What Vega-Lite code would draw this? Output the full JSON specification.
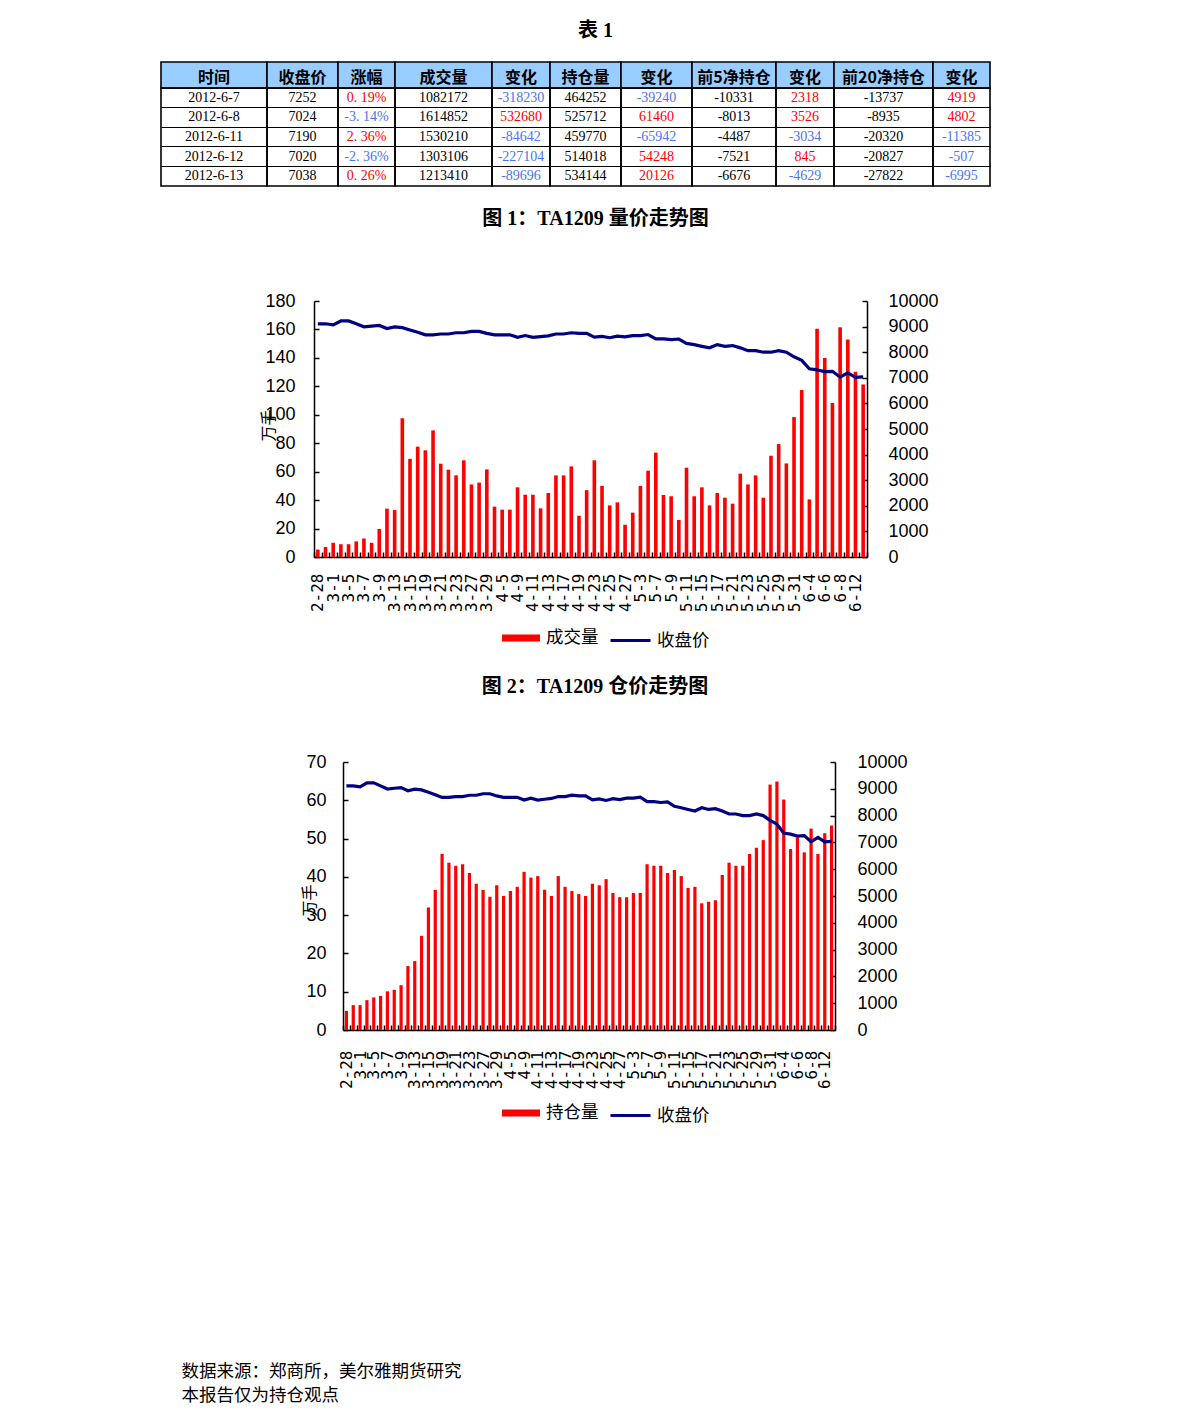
{
  "$schema": "https://vega.github.io/schema/vega-lite/v6.json",
  "background": "white",
  "padding": 0,
  "autosize": {"type": "pad"},
  "bounds": "flush",
  "spacing": 0,
  "resolve": {"scale": {"fill": "independent", "stroke": "independent", "color": "independent"}, "legend": {"fill": "independent", "stroke": "independent"}},
  "config": {
    "view": {"stroke": null},
    "axis": {"labelColor": "#000", "domainColor": "#000", "tickColor": "#000", "grid": false}
  },
  "datasets": {
    "table": [
      {"d": "2012-6-7", "close": 7252, "pct": "0. 19%", "vol": 1082172, "volChg": -318230, "oi": 464252, "oiChg": -39240, "top5": -10331, "top5Chg": 2318, "top20": -13737, "top20Chg": 4919},
      {"d": "2012-6-8", "close": 7024, "pct": "-3. 14%", "vol": 1614852, "volChg": 532680, "oi": 525712, "oiChg": 61460, "top5": -8013, "top5Chg": 3526, "top20": -8935, "top20Chg": 4802},
      {"d": "2012-6-11", "close": 7190, "pct": "2. 36%", "vol": 1530210, "volChg": -84642, "oi": 459770, "oiChg": -65942, "top5": -4487, "top5Chg": -3034, "top20": -20320, "top20Chg": -11385},
      {"d": "2012-6-12", "close": 7020, "pct": "-2. 36%", "vol": 1303106, "volChg": -227104, "oi": 514018, "oiChg": 54248, "top5": -7521, "top5Chg": 845, "top20": -20827, "top20Chg": -507},
      {"d": "2012-6-13", "close": 7038, "pct": "0. 26%", "vol": 1213410, "volChg": -89696, "oi": 534144, "oiChg": 20126, "top5": -6676, "top5Chg": -4629, "top20": -27822, "top20Chg": -6995}
    ],
    "daily": [
      {"d": "2-28", "vol": 5.2, "oi": 5.0, "close": 9110},
      {"d": "2-29", "vol": 7, "oi": 6.5, "close": 9110},
      {"d": "3-1", "vol": 10, "oi": 6.5, "close": 9070},
      {"d": "3-2", "vol": 9, "oi": 7.8, "close": 9220},
      {"d": "3-5", "vol": 9, "oi": 8.5, "close": 9220},
      {"d": "3-6", "vol": 11, "oi": 8.9, "close": 9110},
      {"d": "3-7", "vol": 13, "oi": 10.1, "close": 8990},
      {"d": "3-8", "vol": 10, "oi": 10.5, "close": 9020},
      {"d": "3-9", "vol": 19.7, "oi": 11.7, "close": 9045},
      {"d": "3-12", "vol": 34, "oi": 16.7, "close": 8925},
      {"d": "3-13", "vol": 33, "oi": 18.0, "close": 8985},
      {"d": "3-14", "vol": 97.5, "oi": 24.6, "close": 8960},
      {"d": "3-15", "vol": 69, "oi": 32.0, "close": 8870},
      {"d": "3-16", "vol": 77.6, "oi": 36.6, "close": 8780},
      {"d": "3-19", "vol": 75, "oi": 46.0, "close": 8680},
      {"d": "3-20", "vol": 89, "oi": 43.7, "close": 8680},
      {"d": "3-21", "vol": 65.6, "oi": 42.9, "close": 8710},
      {"d": "3-22", "vol": 61.4, "oi": 43.3, "close": 8710},
      {"d": "3-23", "vol": 57.4, "oi": 41.0, "close": 8760},
      {"d": "3-26", "vol": 68, "oi": 38.2, "close": 8760},
      {"d": "3-27", "vol": 51, "oi": 36.6, "close": 8815},
      {"d": "3-28", "vol": 52.3, "oi": 34.8, "close": 8815},
      {"d": "3-29", "vol": 61.6, "oi": 37.8, "close": 8735},
      {"d": "3-30", "vol": 35.4, "oi": 35.0, "close": 8680},
      {"d": "4-5", "vol": 33.3, "oi": 36.3, "close": 8680},
      {"d": "4-6", "vol": 33.3, "oi": 37.4, "close": 8680},
      {"d": "4-9", "vol": 49, "oi": 41.3, "close": 8580},
      {"d": "4-10", "vol": 43.8, "oi": 39.8, "close": 8650},
      {"d": "4-11", "vol": 43.8, "oi": 40.2, "close": 8580},
      {"d": "4-12", "vol": 34.2, "oi": 36.6, "close": 8610},
      {"d": "4-13", "vol": 45, "oi": 35.0, "close": 8640},
      {"d": "4-16", "vol": 57.4, "oi": 40.2, "close": 8710},
      {"d": "4-17", "vol": 57.4, "oi": 37.4, "close": 8710},
      {"d": "4-18", "vol": 63.7, "oi": 36.3, "close": 8760},
      {"d": "4-19", "vol": 29, "oi": 35.5, "close": 8735},
      {"d": "4-20", "vol": 47, "oi": 35.0, "close": 8735},
      {"d": "4-23", "vol": 68, "oi": 38.2, "close": 8590},
      {"d": "4-24", "vol": 50, "oi": 37.8, "close": 8620},
      {"d": "4-25", "vol": 36.3, "oi": 39.4, "close": 8565},
      {"d": "4-26", "vol": 38.4, "oi": 35.8, "close": 8630},
      {"d": "4-27", "vol": 22.7, "oi": 34.7, "close": 8600},
      {"d": "5-2", "vol": 31.2, "oi": 34.7, "close": 8650},
      {"d": "5-3", "vol": 50, "oi": 35.8, "close": 8650},
      {"d": "5-4", "vol": 60.7, "oi": 35.8, "close": 8690},
      {"d": "5-7", "vol": 73.4, "oi": 43.3, "close": 8520},
      {"d": "5-8", "vol": 43.6, "oi": 42.9, "close": 8520},
      {"d": "5-9", "vol": 42.7, "oi": 42.9, "close": 8490},
      {"d": "5-10", "vol": 26, "oi": 41.0, "close": 8515},
      {"d": "5-11", "vol": 62.8, "oi": 41.8, "close": 8345},
      {"d": "5-14", "vol": 42.7, "oi": 40.2, "close": 8295},
      {"d": "5-15", "vol": 49, "oi": 37.1, "close": 8230},
      {"d": "5-16", "vol": 36.3, "oi": 37.4, "close": 8170},
      {"d": "5-17", "vol": 45, "oi": 33.1, "close": 8295},
      {"d": "5-18", "vol": 41.7, "oi": 33.5, "close": 8230},
      {"d": "5-21", "vol": 37.5, "oi": 33.9, "close": 8260},
      {"d": "5-22", "vol": 58.6, "oi": 40.5, "close": 8170},
      {"d": "5-23", "vol": 51, "oi": 43.7, "close": 8060},
      {"d": "5-24", "vol": 57.4, "oi": 42.9, "close": 8060},
      {"d": "5-25", "vol": 41.7, "oi": 42.9, "close": 8000},
      {"d": "5-28", "vol": 71.2, "oi": 46.0, "close": 8000},
      {"d": "5-29", "vol": 79.4, "oi": 47.6, "close": 8060},
      {"d": "5-30", "vol": 65.8, "oi": 49.6, "close": 8000},
      {"d": "5-31", "vol": 98.4, "oi": 64.1, "close": 7820},
      {"d": "6-1", "vol": 117.4, "oi": 64.9, "close": 7680},
      {"d": "6-4", "vol": 40.5, "oi": 60.2, "close": 7350},
      {"d": "6-5", "vol": 160.5, "oi": 47.3, "close": 7310},
      {"d": "6-6", "vol": 140.0, "oi": 50.3, "close": 7238},
      {"d": "6-7", "vol": 108.2, "oi": 46.4, "close": 7252},
      {"d": "6-8", "vol": 161.5, "oi": 52.6, "close": 7024},
      {"d": "6-11", "vol": 153.0, "oi": 46.0, "close": 7190},
      {"d": "6-12", "vol": 130.3, "oi": 51.4, "close": 7020},
      {"d": "6-13", "vol": 121.3, "oi": 53.4, "close": 7038}
    ]
  },
  "vconcat": [
    {
      "width": 1191, "height": 62,
      "data": {"values": [{"t": "表 1"}]},
      "mark": {"type": "text", "font": "Liberation Serif, Noto Sans CJK SC", "fontSize": 20, "fontWeight": "bold", "color": "#000"},
      "encoding": {"text": {"field": "t"}}
    },
    {
      "hconcat": [
        {"width": 161, "height": 26, "data": {"values": []}, "mark": "point", "encoding": {}},
        {"width": 106, "height": 26, "data": {"values": [{"h": "时间"}]}, "mark": {"type": "text", "font": "Noto Sans CJK SC", "fontSize": 16, "fontWeight": "bold", "dy": 3, "color": "#000"}, "encoding": {"text": {"field": "h"}}, "view": {"fill": "#99ccff", "stroke": "#000", "strokeWidth": 1.6}},
        {"width": 71, "height": 26, "data": {"values": [{"h": "收盘价"}]}, "mark": {"type": "text", "font": "Noto Sans CJK SC", "fontSize": 16, "fontWeight": "bold", "dy": 3, "color": "#000"}, "encoding": {"text": {"field": "h"}}, "view": {"fill": "#99ccff", "stroke": "#000", "strokeWidth": 1.6}},
        {"width": 57, "height": 26, "data": {"values": [{"h": "涨幅"}]}, "mark": {"type": "text", "font": "Noto Sans CJK SC", "fontSize": 16, "fontWeight": "bold", "dy": 3, "color": "#000"}, "encoding": {"text": {"field": "h"}}, "view": {"fill": "#99ccff", "stroke": "#000", "strokeWidth": 1.6}},
        {"width": 97, "height": 26, "data": {"values": [{"h": "成交量"}]}, "mark": {"type": "text", "font": "Noto Sans CJK SC", "fontSize": 16, "fontWeight": "bold", "dy": 3, "color": "#000"}, "encoding": {"text": {"field": "h"}}, "view": {"fill": "#99ccff", "stroke": "#000", "strokeWidth": 1.6}},
        {"width": 58, "height": 26, "data": {"values": [{"h": "变化"}]}, "mark": {"type": "text", "font": "Noto Sans CJK SC", "fontSize": 16, "fontWeight": "bold", "dy": 3, "color": "#000"}, "encoding": {"text": {"field": "h"}}, "view": {"fill": "#99ccff", "stroke": "#000", "strokeWidth": 1.6}},
        {"width": 71, "height": 26, "data": {"values": [{"h": "持仓量"}]}, "mark": {"type": "text", "font": "Noto Sans CJK SC", "fontSize": 16, "fontWeight": "bold", "dy": 3, "color": "#000"}, "encoding": {"text": {"field": "h"}}, "view": {"fill": "#99ccff", "stroke": "#000", "strokeWidth": 1.6}},
        {"width": 71, "height": 26, "data": {"values": [{"h": "变化"}]}, "mark": {"type": "text", "font": "Noto Sans CJK SC", "fontSize": 16, "fontWeight": "bold", "dy": 3, "color": "#000"}, "encoding": {"text": {"field": "h"}}, "view": {"fill": "#99ccff", "stroke": "#000", "strokeWidth": 1.6}},
        {"width": 84, "height": 26, "data": {"values": [{"h": "前5净持仓"}]}, "mark": {"type": "text", "font": "Noto Sans CJK SC", "fontSize": 16, "fontWeight": "bold", "dy": 3, "color": "#000"}, "encoding": {"text": {"field": "h"}}, "view": {"fill": "#99ccff", "stroke": "#000", "strokeWidth": 1.6}},
        {"width": 58, "height": 26, "data": {"values": [{"h": "变化"}]}, "mark": {"type": "text", "font": "Noto Sans CJK SC", "fontSize": 16, "fontWeight": "bold", "dy": 3, "color": "#000"}, "encoding": {"text": {"field": "h"}}, "view": {"fill": "#99ccff", "stroke": "#000", "strokeWidth": 1.6}},
        {"width": 99, "height": 26, "data": {"values": [{"h": "前20净持仓"}]}, "mark": {"type": "text", "font": "Noto Sans CJK SC", "fontSize": 16, "fontWeight": "bold", "dy": 3, "color": "#000"}, "encoding": {"text": {"field": "h"}}, "view": {"fill": "#99ccff", "stroke": "#000", "strokeWidth": 1.6}},
        {"width": 57, "height": 26, "data": {"values": [{"h": "变化"}]}, "mark": {"type": "text", "font": "Noto Sans CJK SC", "fontSize": 16, "fontWeight": "bold", "dy": 3, "color": "#000"}, "encoding": {"text": {"field": "h"}}, "view": {"fill": "#99ccff", "stroke": "#000", "strokeWidth": 1.6}}
      ],
      "spacing": 0,
      "bounds": "flush"
    },
    {"width": 1, "height": 26, "data": {"values": []}, "mark": "point", "encoding": {}},
    {
      "hconcat": [
        {"width": 161, "height": 98, "data": {"values": []}, "mark": "point", "encoding": {}},
        {"width": 106, "height": 98, "data": {"name": "table"}, "mark": {"type": "text", "font": "Liberation Serif", "fontSize": 14, "color": "#000"},
         "encoding": {"y": {"field": "d", "type": "ordinal", "scale": {"type": "band", "domain": ["2012-6-7", "2012-6-8", "2012-6-11", "2012-6-12", "2012-6-13"], "paddingInner": 0, "paddingOuter": 0}, "axis": {"labels": false, "ticks": false, "domain": false, "grid": true, "gridColor": "#000", "gridWidth": 1.2, "title": null, "bandPosition": 0}},
                      "text": {"field": "d", "type": "nominal"}},
         "view": {"stroke": "#000", "strokeWidth": 1.6}},
        {"width": 71, "height": 98, "data": {"name": "table"}, "mark": {"type": "text", "font": "Liberation Serif", "fontSize": 14, "color": "#000"},
         "encoding": {"y": {"field": "d", "type": "ordinal", "scale": {"type": "band", "domain": ["2012-6-7", "2012-6-8", "2012-6-11", "2012-6-12", "2012-6-13"], "paddingInner": 0, "paddingOuter": 0}, "axis": {"labels": false, "ticks": false, "domain": false, "grid": true, "gridColor": "#000", "gridWidth": 1.2, "title": null, "bandPosition": 0}},
                      "text": {"field": "close", "type": "nominal"}},
         "view": {"stroke": "#000", "strokeWidth": 1.6}},
        {"width": 57, "height": 98, "data": {"name": "table"}, "mark": {"type": "text", "font": "Liberation Serif", "fontSize": 14},
         "encoding": {"y": {"field": "d", "type": "ordinal", "scale": {"type": "band", "domain": ["2012-6-7", "2012-6-8", "2012-6-11", "2012-6-12", "2012-6-13"], "paddingInner": 0, "paddingOuter": 0}, "axis": {"labels": false, "ticks": false, "domain": false, "grid": true, "gridColor": "#000", "gridWidth": 1.2, "title": null, "bandPosition": 0}},
                      "text": {"field": "pct", "type": "nominal"},
                      "color": {"condition": {"test": "indexof(datum.pct, '-') === 0", "value": "#4a74f5"}, "value": "#ff0000"}},
         "view": {"stroke": "#000", "strokeWidth": 1.6}},
        {"width": 97, "height": 98, "data": {"name": "table"}, "mark": {"type": "text", "font": "Liberation Serif", "fontSize": 14, "color": "#000"},
         "encoding": {"y": {"field": "d", "type": "ordinal", "scale": {"type": "band", "domain": ["2012-6-7", "2012-6-8", "2012-6-11", "2012-6-12", "2012-6-13"], "paddingInner": 0, "paddingOuter": 0}, "axis": {"labels": false, "ticks": false, "domain": false, "grid": true, "gridColor": "#000", "gridWidth": 1.2, "title": null, "bandPosition": 0}},
                      "text": {"field": "vol", "type": "nominal"}},
         "view": {"stroke": "#000", "strokeWidth": 1.6}},
        {"width": 58, "height": 98, "data": {"name": "table"}, "mark": {"type": "text", "font": "Liberation Serif", "fontSize": 14},
         "encoding": {"y": {"field": "d", "type": "ordinal", "scale": {"type": "band", "domain": ["2012-6-7", "2012-6-8", "2012-6-11", "2012-6-12", "2012-6-13"], "paddingInner": 0, "paddingOuter": 0}, "axis": {"labels": false, "ticks": false, "domain": false, "grid": true, "gridColor": "#000", "gridWidth": 1.2, "title": null, "bandPosition": 0}},
                      "text": {"field": "volChg", "type": "nominal"},
                      "color": {"condition": {"test": "datum.volChg < 0", "value": "#4a74f5"}, "value": "#ff0000"}},
         "view": {"stroke": "#000", "strokeWidth": 1.6}},
        {"width": 71, "height": 98, "data": {"name": "table"}, "mark": {"type": "text", "font": "Liberation Serif", "fontSize": 14, "color": "#000"},
         "encoding": {"y": {"field": "d", "type": "ordinal", "scale": {"type": "band", "domain": ["2012-6-7", "2012-6-8", "2012-6-11", "2012-6-12", "2012-6-13"], "paddingInner": 0, "paddingOuter": 0}, "axis": {"labels": false, "ticks": false, "domain": false, "grid": true, "gridColor": "#000", "gridWidth": 1.2, "title": null, "bandPosition": 0}},
                      "text": {"field": "oi", "type": "nominal"}},
         "view": {"stroke": "#000", "strokeWidth": 1.6}},
        {"width": 71, "height": 98, "data": {"name": "table"}, "mark": {"type": "text", "font": "Liberation Serif", "fontSize": 14},
         "encoding": {"y": {"field": "d", "type": "ordinal", "scale": {"type": "band", "domain": ["2012-6-7", "2012-6-8", "2012-6-11", "2012-6-12", "2012-6-13"], "paddingInner": 0, "paddingOuter": 0}, "axis": {"labels": false, "ticks": false, "domain": false, "grid": true, "gridColor": "#000", "gridWidth": 1.2, "title": null, "bandPosition": 0}},
                      "text": {"field": "oiChg", "type": "nominal"},
                      "color": {"condition": {"test": "datum.oiChg < 0", "value": "#4a74f5"}, "value": "#ff0000"}},
         "view": {"stroke": "#000", "strokeWidth": 1.6}},
        {"width": 84, "height": 98, "data": {"name": "table"}, "mark": {"type": "text", "font": "Liberation Serif", "fontSize": 14, "color": "#000"},
         "encoding": {"y": {"field": "d", "type": "ordinal", "scale": {"type": "band", "domain": ["2012-6-7", "2012-6-8", "2012-6-11", "2012-6-12", "2012-6-13"], "paddingInner": 0, "paddingOuter": 0}, "axis": {"labels": false, "ticks": false, "domain": false, "grid": true, "gridColor": "#000", "gridWidth": 1.2, "title": null, "bandPosition": 0}},
                      "text": {"field": "top5", "type": "nominal"}},
         "view": {"stroke": "#000", "strokeWidth": 1.6}},
        {"width": 58, "height": 98, "data": {"name": "table"}, "mark": {"type": "text", "font": "Liberation Serif", "fontSize": 14},
         "encoding": {"y": {"field": "d", "type": "ordinal", "scale": {"type": "band", "domain": ["2012-6-7", "2012-6-8", "2012-6-11", "2012-6-12", "2012-6-13"], "paddingInner": 0, "paddingOuter": 0}, "axis": {"labels": false, "ticks": false, "domain": false, "grid": true, "gridColor": "#000", "gridWidth": 1.2, "title": null, "bandPosition": 0}},
                      "text": {"field": "top5Chg", "type": "nominal"},
                      "color": {"condition": {"test": "datum.top5Chg < 0", "value": "#4a74f5"}, "value": "#ff0000"}},
         "view": {"stroke": "#000", "strokeWidth": 1.6}},
        {"width": 99, "height": 98, "data": {"name": "table"}, "mark": {"type": "text", "font": "Liberation Serif", "fontSize": 14, "color": "#000"},
         "encoding": {"y": {"field": "d", "type": "ordinal", "scale": {"type": "band", "domain": ["2012-6-7", "2012-6-8", "2012-6-11", "2012-6-12", "2012-6-13"], "paddingInner": 0, "paddingOuter": 0}, "axis": {"labels": false, "ticks": false, "domain": false, "grid": true, "gridColor": "#000", "gridWidth": 1.2, "title": null, "bandPosition": 0}},
                      "text": {"field": "top20", "type": "nominal"}},
         "view": {"stroke": "#000", "strokeWidth": 1.6}},
        {"width": 57, "height": 98, "data": {"name": "table"}, "mark": {"type": "text", "font": "Liberation Serif", "fontSize": 14},
         "encoding": {"y": {"field": "d", "type": "ordinal", "scale": {"type": "band", "domain": ["2012-6-7", "2012-6-8", "2012-6-11", "2012-6-12", "2012-6-13"], "paddingInner": 0, "paddingOuter": 0}, "axis": {"labels": false, "ticks": false, "domain": false, "grid": true, "gridColor": "#000", "gridWidth": 1.2, "title": null, "bandPosition": 0}},
                      "text": {"field": "top20Chg", "type": "nominal"},
                      "color": {"condition": {"test": "datum.top20Chg < 0", "value": "#4a74f5"}, "value": "#ff0000"}},
         "view": {"stroke": "#000", "strokeWidth": 1.6}}
      ],
      "spacing": 0,
      "bounds": "flush"
    },
    {"width": 1, "height": 213, "data": {"values": []}, "mark": "point", "encoding": {}},
    {
      "hconcat": [
        {"width": 314, "height": 256, "data": {"values": []}, "mark": "point", "encoding": {}},
        {
          "width": 553, "height": 256,
          "data": {"name": "daily"},
          "title": {"text": "图 1：TA1209 量价走势图", "offset": 63, "fontSize": 20, "font": "Liberation Serif, Noto Sans CJK SC", "fontWeight": "bold", "anchor": "middle", "dx": 5, "color": "#000"},
          "layer": [
            {
              "mark": {"type": "bar", "width": {"band": 0.47}},
              "encoding": {
                "x": {"field": "d", "type": "ordinal", "sort": null, "scale": {"paddingInner": 0, "paddingOuter": 0},
                      "axis": {"title": null, "labelAngle": -90, "labelFont": "DejaVu Sans Mono", "labelFontSize": 16, "labelPadding": 21, "labelOverlap": false,
                               "labelExpr": "indexof(['2-28','3-1','3-5','3-7','3-9','3-13','3-15','3-19','3-21','3-23','3-27','3-29','4-5','4-9','4-11','4-13','4-17','4-19','4-23','4-25','4-27','5-3','5-7','5-9','5-11','5-15','5-17','5-21','5-23','5-25','5-29','5-31','6-4','6-6','6-8','6-12'], datum.value) >= 0 ? datum.value : ''",
                               "tickBand": "extent", "tickSize": -5, "tickWidth": 1.5, "domainWidth": 1.5}},
                "y": {"field": "vol", "type": "quantitative", "scale": {"domain": [0, 180], "nice": false},
                      "axis": {"values": [0, 20, 40, 60, 80, 100, 120, 140, 160, 180], "title": "万手", "titleFont": "Noto Sans CJK SC", "titleFontSize": 16, "titleFontWeight": "normal", "titleX": -38, "titleY": 124, "titleColor": "#000",
                               "labelFont": "Liberation Sans", "labelFontSize": 18, "labelPadding": 24, "tickSize": -5, "tickWidth": 1.5, "domainWidth": 1.5}},
                "fill": {"datum": "成交量", "type": "nominal", "scale": {"range": ["#ff0000"]},
                         "legend": {"orient": "none", "legendX": 188, "legendY": 318, "title": null, "symbolType": "M-1,-0.184H1V0.184H-1Z", "symbolSize": 1444, "symbolStrokeWidth": 0, "labelFont": "Noto Sans CJK SC", "labelFontSize": 17.5, "labelColor": "#000", "labelOffset": 6, "padding": 0}}
              }
            },
            {
              "mark": {"type": "line", "strokeWidth": 3.2},
              "encoding": {
                "x": {"field": "d", "type": "ordinal", "sort": null},
                "y": {"field": "close", "type": "quantitative", "scale": {"domain": [0, 10000], "nice": false},
                      "axis": {"orient": "right", "values": [0, 1000, 2000, 3000, 4000, 5000, 6000, 7000, 8000, 9000, 10000], "title": null, "format": "d",
                               "labelFont": "Liberation Sans", "labelFontSize": 18, "labelPadding": 26, "tickSize": -5, "tickWidth": 1.5, "domainWidth": 1.5}},
                "stroke": {"datum": "收盘价", "type": "nominal", "scale": {"range": ["#000080"]},
                           "legend": {"orient": "none", "legendX": 295, "legendY": 318, "title": null, "symbolType": "stroke", "symbolSize": 1600, "symbolStrokeWidth": 3, "labelFont": "Noto Sans CJK SC", "labelFontSize": 17.5, "labelColor": "#000", "labelOffset": 5, "padding": 0}}
              }
            }
          ],
          "resolve": {"scale": {"y": "independent"}}
        }
      ],
      "spacing": 0,
      "bounds": "flush",
      "resolve": {"scale": {"fill": "independent", "stroke": "independent"}, "legend": {"fill": "independent", "stroke": "independent"}}
    },
    {"width": 1, "height": 461, "data": {"values": []}, "mark": "point", "encoding": {}},
    {
      "hconcat": [
        {"width": 343, "height": 268, "data": {"values": []}, "mark": "point", "encoding": {}},
        {
          "width": 492, "height": 268,
          "data": {"name": "daily"},
          "title": {"text": "图 2：TA1209 仓价走势图", "offset": 56, "fontSize": 20, "font": "Liberation Serif, Noto Sans CJK SC", "fontWeight": "bold", "anchor": "middle", "dx": 6, "color": "#000"},
          "layer": [
            {
              "mark": {"type": "bar", "width": {"band": 0.47}},
              "encoding": {
                "x": {"field": "d", "type": "ordinal", "sort": null, "scale": {"paddingInner": 0, "paddingOuter": 0},
                      "axis": {"title": null, "labelAngle": -90, "labelFont": "DejaVu Sans Mono", "labelFontSize": 16, "labelPadding": 25, "labelOverlap": false,
                               "labelExpr": "indexof(['2-28','3-1','3-5','3-7','3-9','3-13','3-15','3-19','3-21','3-23','3-27','3-29','4-5','4-9','4-11','4-13','4-17','4-19','4-23','4-25','4-27','5-3','5-7','5-9','5-11','5-15','5-17','5-21','5-23','5-25','5-29','5-31','6-4','6-6','6-8','6-12'], datum.value) >= 0 ? datum.value : ''",
                               "tickBand": "extent", "tickSize": -5, "tickWidth": 1.5, "domainWidth": 1.5}},
                "y": {"field": "oi", "type": "quantitative", "scale": {"domain": [0, 70], "nice": false},
                      "axis": {"values": [0, 10, 20, 30, 40, 50, 60, 70], "title": "万手", "titleFont": "Noto Sans CJK SC", "titleFontSize": 16, "titleFontWeight": "normal", "titleX": -26, "titleY": 138, "titleColor": "#000",
                               "labelFont": "Liberation Sans", "labelFontSize": 18, "labelPadding": 22, "tickSize": -5, "tickWidth": 1.5, "domainWidth": 1.5}},
                "fill": {"datum": "持仓量", "type": "nominal", "scale": {"range": ["#ff0000"]},
                         "legend": {"orient": "none", "legendX": 159, "legendY": 332, "title": null, "symbolType": "M-1,-0.184H1V0.184H-1Z", "symbolSize": 1444, "symbolStrokeWidth": 0, "labelFont": "Noto Sans CJK SC", "labelFontSize": 17.5, "labelColor": "#000", "labelOffset": 6, "padding": 0}}
              }
            },
            {
              "mark": {"type": "line", "strokeWidth": 3.2},
              "encoding": {
                "x": {"field": "d", "type": "ordinal", "sort": null},
                "y": {"field": "close", "type": "quantitative", "scale": {"domain": [0, 10000], "nice": false},
                      "axis": {"orient": "right", "values": [0, 1000, 2000, 3000, 4000, 5000, 6000, 7000, 8000, 9000, 10000], "title": null, "format": "d",
                               "labelFont": "Liberation Sans", "labelFontSize": 18, "labelPadding": 27, "tickSize": -5, "tickWidth": 1.5, "domainWidth": 1.5}},
                "stroke": {"datum": "收盘价", "type": "nominal", "scale": {"range": ["#000080"]},
                           "legend": {"orient": "none", "legendX": 266, "legendY": 332, "title": null, "symbolType": "stroke", "symbolSize": 1600, "symbolStrokeWidth": 3, "labelFont": "Noto Sans CJK SC", "labelFontSize": 17.5, "labelColor": "#000", "labelOffset": 5, "padding": 0}}
              }
            }
          ],
          "resolve": {"scale": {"y": "independent"}}
        }
      ],
      "spacing": 0,
      "bounds": "flush",
      "resolve": {"scale": {"fill": "independent", "stroke": "independent"}, "legend": {"fill": "independent", "stroke": "independent"}}
    },
    {"width": 1, "height": 586, "data": {"values": []}, "mark": "point", "encoding": {}},
    {
      "hconcat": [
        {"width": 181, "height": 48, "data": {"values": []}, "mark": "point", "encoding": {}},
        {"width": 1, "height": 48, "data": {"values": [{"t": "数据来源：郑商所，美尔雅期货研究\n本报告仅为持仓观点"}]},
         "mark": {"type": "text", "align": "left", "lineBreak": "\n", "lineHeight": 24, "font": "Noto Sans CJK SC", "fontSize": 17.5, "color": "#000"},
         "encoding": {"text": {"field": "t"}}}
      ],
      "spacing": 0,
      "bounds": "flush"
    }
  ]
}
